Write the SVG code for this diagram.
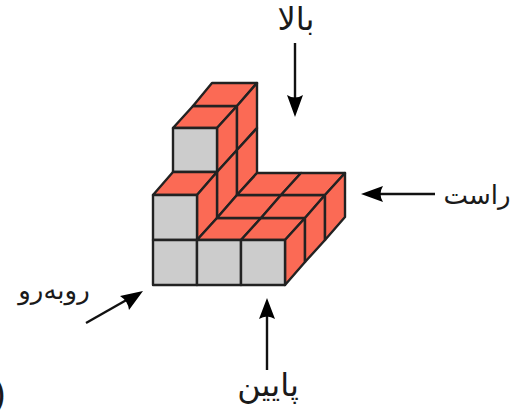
<svg xmlns="http://www.w3.org/2000/svg" width="514" height="411" viewBox="0 0 514 411">
<style>
.g{fill:#cccccc;stroke:#222;stroke-width:2.4;stroke-linejoin:round}
.r{fill:#fb6a55;stroke:#222;stroke-width:2.4;stroke-linejoin:round}
.a{fill:none;stroke:#111;stroke-width:2.4}
.h{fill:#000}
text{font-family:"DejaVu Sans",sans-serif;fill:#1a1a1a;text-anchor:middle}
</style>
<rect width="514" height="411" fill="#fff"/>
<g id="blocks">
<path class="r" d="M217 128L237 106H193L173 128Z"/>
<path class="r" d="M237 106L257 83H212L193 106Z"/>
<path class="r" d="M217 128L237 106V150L217 172Z"/>
<path class="r" d="M237 106L257 83V128L237 150Z"/>
<path class="r" d="M217 172L237 150V195L217 218Z"/>
<path class="r" d="M237 150L257 128V173L237 195Z"/>
<rect class="g" x="173" y="128" width="44" height="44"/>
<path class="r" d="M153 195L173 172H217L197 195Z"/>
<path class="r" d="M197 195L217 172V218L197 240Z"/>
<rect class="g" x="153" y="195" width="44" height="45"/>
<path class="r" d="M197 240L217 218H261L241 240Z"/>
<path class="r" d="M241 240L261 218H305L285 240Z"/>
<path class="r" d="M217 218L237 195H281L261 218Z"/>
<path class="r" d="M261 218L281 195H325L305 218Z"/>
<path class="r" d="M237 195L257 173H301L281 195Z"/>
<path class="r" d="M281 195L301 173H345L325 195Z"/>
<path class="r" d="M285 240L305 218V262L285 285Z"/>
<path class="r" d="M305 218L325 195V240L305 262Z"/>
<path class="r" d="M325 195L345 173V217L325 240Z"/>
<rect class="g" x="153" y="240" width="44" height="45"/>
<rect class="g" x="197" y="240" width="44" height="45"/>
<rect class="g" x="241" y="240" width="44" height="45"/>
</g>
<g id="connectors">
<path class="a" d="M295 43V100"/><path class="h" d="M295 117L287 95Q295 100 303 95Z"/>
<path class="a" d="M435 194H378"/><path class="h" d="M361 194L383 186Q378 194 383 202Z"/>
<path class="a" d="M86 323L130 298"/><path class="h" d="M143 291L129 310Q128 301 120 296Z"/>
<path class="a" d="M267 370V314"/><path class="h" d="M267 298L259 319Q267 314 275 319Z"/>
</g>
<g id="label-top"><text x="296" y="30" font-size="32">بالا</text></g>
<g id="label-right"><text x="477" y="204" font-size="26">راست</text></g>
<g id="label-front"><text x="54" y="299" font-size="26">روبه‌رو</text></g>
<g id="label-bottom"><text x="268" y="396" font-size="32">پایین</text></g>
<text x="-7" y="406" font-size="38" style="text-anchor:start;font-family:'Liberation Sans',sans-serif" fill="#000">)</text>
</svg>
